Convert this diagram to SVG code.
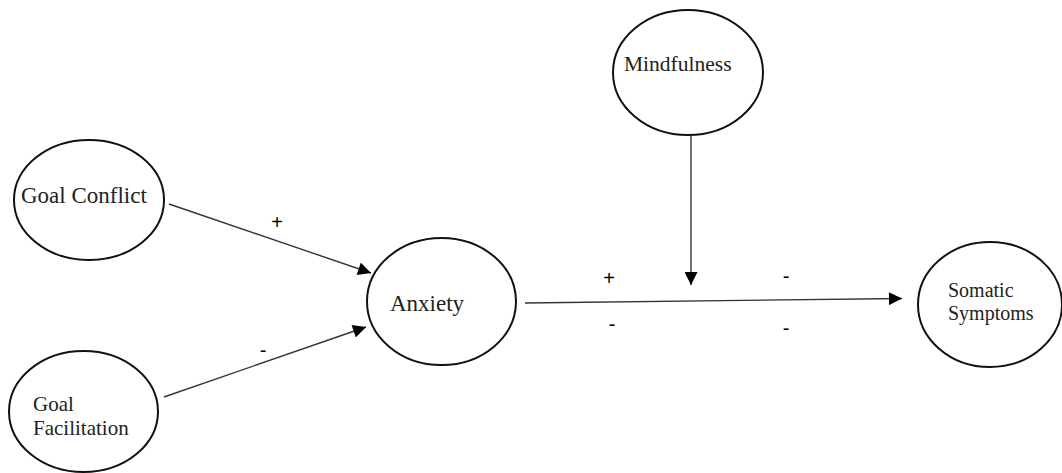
<svg xmlns="http://www.w3.org/2000/svg" width="1062" height="473" viewBox="0 0 1062 473">
  <style>
    .node { fill: #ffffff; stroke: #111111; stroke-width: 2; }
    .label { font-family: "Liberation Serif", "Times New Roman", serif; fill: #222222; }
    .edge { stroke: #333333; stroke-width: 1.4; fill: none; marker-end: url(#arrow); }
    .sign { font-family: "Liberation Sans", Arial, sans-serif; font-size: 20px; fill: #000000; text-anchor: middle; }
  </style>
  <defs>
    <marker id="arrow" viewBox="0 0 10 10" refX="10" refY="5" markerWidth="14" markerHeight="13" markerUnits="userSpaceOnUse" orient="auto">
      <path d="M0,0 L10,5 L0,10 Z" fill="#000000"/>
    </marker>
  </defs>
  <rect width="1062" height="473" fill="#ffffff"/>

  <g id="goal-conflict">
    <ellipse class="node" cx="89" cy="200" rx="75" ry="60"/>
    <text class="label" x="21" y="203" font-size="23">Goal Conflict</text>
  </g>

  <g id="goal-facilitation">
    <ellipse class="node" cx="83.5" cy="411.5" rx="74.5" ry="60.5"/>
    <text class="label" x="33" y="411" font-size="21">Goal</text>
    <text class="label" x="33" y="435" font-size="21">Facilitation</text>
  </g>

  <g id="anxiety">
    <ellipse class="node" cx="441.5" cy="301.5" rx="74.5" ry="63.5"/>
    <text class="label" x="390" y="311" font-size="23">Anxiety</text>
  </g>

  <g id="mindfulness">
    <ellipse class="node" cx="688" cy="72.5" rx="75" ry="62.5"/>
    <text class="label" x="624" y="71" font-size="21.5">Mindfulness</text>
  </g>

  <g id="somatic-symptoms">
    <ellipse class="node" cx="990" cy="304.5" rx="72" ry="62.5"/>
    <text class="label" x="948" y="297" font-size="20">Somatic</text>
    <text class="label" x="948" y="320" font-size="20">Symptoms</text>
  </g>

  <g id="connectors">
    <line class="edge" x1="169" y1="204" x2="371" y2="273"/>
    <line class="edge" x1="164" y1="397" x2="366" y2="327"/>
    <line class="edge" x1="525" y1="303" x2="902" y2="298.5"/>
    <line class="edge" x1="691" y1="135" x2="691" y2="285"/>
    <text class="sign" x="277" y="229">+</text>
    <text class="sign" x="263" y="357">-</text>
    <text class="sign" x="609" y="285">+</text>
    <text class="sign" x="786" y="283">-</text>
    <text class="sign" x="612" y="331">-</text>
    <text class="sign" x="786" y="335">-</text>
  </g>
</svg>
